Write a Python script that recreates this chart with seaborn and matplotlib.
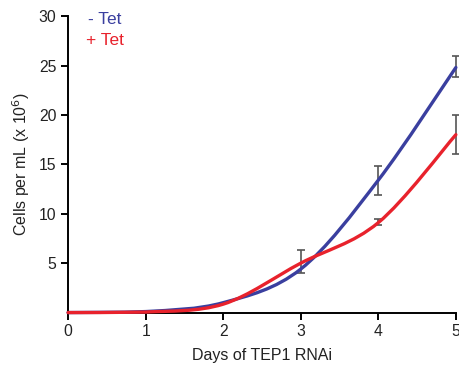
import numpy as np
import matplotlib
matplotlib.use("Agg")
import matplotlib.pyplot as plt
from matplotlib.path import Path
from matplotlib.patches import PathPatch
import seaborn as sns

days = [0, 1, 2, 3, 4, 5]
minus_tet = [0.0, 0.1, 1.0, 4.4, 13.4, 24.8]
plus_tet = [0.0, 0.05, 0.85, 5.0, 9.1, 18.0]
err_x = [3, 4, 5, 4, 5]
err_lo = [4.0, 11.9, 23.8, 8.9, 16.0]
err_hi = [6.3, 14.8, 26.0, 9.5, 20.0]
yticks = [5, 10, 15, 20, 25, 30]

BLUE = "#3a3f9f"
RED = "#e8222c"
GRAY = "#555555"

sns.set_style("ticks")
plt.rcParams["font.family"] = ["Liberation Sans", "DejaVu Sans"]

fig = plt.figure(figsize=(4.6, 3.66), dpi=100)
ax = fig.add_axes([0.148, 0.146, 0.843, 0.81])


def smooth_path(xs, ys):
    xs = np.asarray(xs, float)
    ys = np.asarray(ys, float)
    n = len(xs)
    verts = [(xs[0], ys[0])]
    codes = [Path.MOVETO]
    for i in range(n - 1):
        p0 = (xs[max(i - 1, 0)], ys[max(i - 1, 0)])
        p1 = (xs[i], ys[i])
        p2 = (xs[i + 1], ys[i + 1])
        p3 = (xs[min(i + 2, n - 1)], ys[min(i + 2, n - 1)])
        lo, hi = min(p1[1], p2[1]), max(p1[1], p2[1])
        c1 = (p1[0] + (p2[0] - p0[0]) / 6,
              np.clip(p1[1] + (p2[1] - p0[1]) / 6, lo, hi))
        c2 = (p2[0] - (p3[0] - p1[0]) / 6,
              np.clip(p2[1] - (p3[1] - p1[1]) / 6, lo, hi))
        verts += [c1, c2, p2]
        codes += [Path.CURVE4] * 3
    return Path(verts, codes)


# error bars
for x, lo, hi in zip(err_x, err_lo, err_hi):
    ax.errorbar([x], [(lo + hi) / 2], yerr=[[(hi - lo) / 2], [(hi - lo) / 2]],
                fmt="none", ecolor=GRAY, elinewidth=1.2, capsize=3,
                capthick=1.2, clip_on=False, zorder=2)

for ys, col in [(minus_tet, BLUE), (plus_tet, RED)]:
    ax.add_patch(PathPatch(smooth_path(days, ys), facecolor="none",
                           edgecolor=col, lw=2.4, clip_on=False, zorder=3,
                           capstyle="round"))

ax.set_xlim(0, 5)
ax.set_ylim(0, 30)
ax.set_xticks(days)
ax.set_yticks(yticks)
ax.tick_params(axis="both", labelsize=11.3, width=1.4, length=5,
               color="black", labelcolor="#222222", direction="out")
for s in ["left", "bottom"]:
    ax.spines[s].set_linewidth(1.4)
    ax.spines[s].set_color("black")
sns.despine(ax=ax)

ax.set_xlabel("Days of TEP1 RNAi", fontsize=11.5, color="#222222", labelpad=6)
ax.set_ylabel("Cells per mL (x 10$^{6}$)", fontsize=11.5, color="#222222",
              labelpad=5)

ax.text(0.052, 0.99, "- Tet", transform=ax.transAxes, color=BLUE,
        fontsize=12.5, va="center", ha="left")
ax.text(0.046, 0.919, "+ Tet", transform=ax.transAxes, color=RED,
        fontsize=12.5, va="center", ha="left")

fig.savefig("out.png", dpi=100)
